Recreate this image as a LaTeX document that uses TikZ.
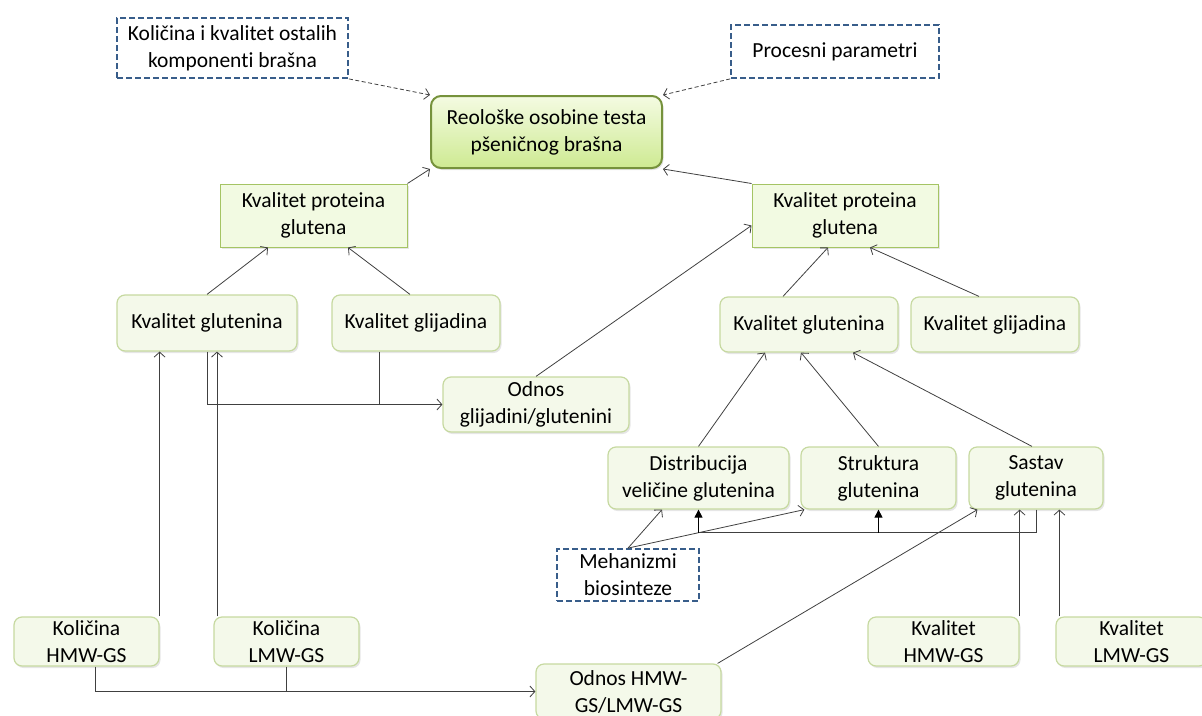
\documentclass[tikz,border=0pt]{standalone}
\usepackage{fontspec}
\setmainfont{Carlito}[Ligatures=NoCommon]
\usetikzlibrary{arrows.meta,shadows}
\definecolor{boxline}{RGB}{198,217,160}
\definecolor{boxfill}{RGB}{244,249,234}
\definecolor{kpgline}{RGB}{165,196,100}
\definecolor{kpgfill}{RGB}{242,250,226}
\definecolor{mainline}{RGB}{118,146,60}
\definecolor{maintop}{RGB}{244,251,226}
\definecolor{mainbot}{RGB}{206,234,146}
\definecolor{extline}{RGB}{56,93,138}
\definecolor{arrline}{RGB}{64,64,64}

\begin{document}
\begin{tikzpicture}[x=1pt,y=-1pt,
		font=\fontsize{21.5}{27}\selectfont,
		every node/.style={align=center,inner sep=0pt},
		shade/.style={drop shadow={shadow xshift=1.5pt,shadow yshift=-2pt,opacity=.2}},
		box/.style={draw=boxline,line width=1.2pt,fill=boxfill,rounded corners=8pt,shade},
		kpg/.style={draw=kpgline,line width=1pt,fill=kpgfill,shade},
		mainbox/.style={draw=mainline,line width=2pt,rounded corners=10pt,top color=maintop,bottom color=mainbot,shade},
		extbox/.style={draw=extline,line width=1.8pt,dash pattern=on 6pt off 3pt,fill=white},
		line/.style={draw=arrline,line width=.8pt},
		arr/.style={line,-{Straight Barb[length=5pt,width=11pt]}},
		dasharr/.style={arr,dash pattern=on 4pt off 2.5pt},
		fillarr/.style={draw=black,line width=.8pt,-{Triangle[length=8pt,width=8pt]}}]
	\useasboundingbox (0,0) rectangle (1202,715);
	% nodes
	\node [mainbox,minimum width=231pt,minimum height=72pt] (0) at (546.5,132) {Reološke osobine testa\\pšeničnog brašna};
	\node [kpg,minimum width=187pt,minimum height=63pt] (1) at (313.5,215.5) {Kvalitet proteina\\glutena};
	\node [kpg,minimum width=186pt,minimum height=63pt] (2) at (845,215.5) {Kvalitet proteina\\glutena};
	\node [box,minimum width=180pt,minimum height=56pt] (3) at (207,323) {Kvalitet glutenina};
	\node [box,minimum width=168pt,minimum height=56pt] (4) at (416,323) {Kvalitet glijadina};
	\node [box,minimum width=186pt,minimum height=55pt] (5) at (536,404.5) {Odnos\\glijadini/glutenini};
	\node [box,minimum width=178pt,minimum height=55pt] (6) at (809,324.5) {Kvalitet glutenina};
	\node [box,minimum width=168pt,minimum height=55pt] (7) at (995,324.5) {Kvalitet glijadina};
	\node [box,minimum width=181pt,minimum height=62pt] (8) at (698.5,478) {Distribucija\\veličine glutenina};
	\node [box,minimum width=155pt,minimum height=62pt] (9) at (878.5,478) {Struktura\\glutenina};
	\node [box,minimum width=134pt,minimum height=62pt] (10) at (1036,478) {Sastav\\glutenina};
	\node [extbox,minimum width=142pt,minimum height=52pt] (11) at (628,575) {Mehanizmi\\biosinteze};
	\node [box,minimum width=145pt,minimum height=49pt] (12) at (86.5,641.5) {Količina\\HMW-GS};
	\node [box,minimum width=145pt,minimum height=49pt] (13) at (286.5,641.5) {Količina\\LMW-GS};
	\node [box,minimum width=185pt,minimum height=55pt] (14) at (628.5,691.5) {Odnos HMW-\\GS/LMW-GS};
	\node [box,minimum width=151pt,minimum height=49pt] (15) at (943.5,641.5) {Kvalitet\\HMW-GS};
	\node [box,minimum width=151pt,minimum height=49pt] (16) at (1131.5,641.5) {Kvalitet\\LMW-GS};
	\node [extbox,minimum width=231pt,minimum height=60pt] (17) at (232.5,48) {Količina i kvalitet ostalih\\komponenti brašna};
	\node [extbox,minimum width=208pt,minimum height=53pt] (18) at (835,51.5) {Procesni parametri};
	% connectors
	\draw[dasharr] (17.south east) -- (0.north west);
	\draw[dasharr] (18.south west) -- (0.north east);
	\draw[arr] (1.north east) -- (0.south west);
	\draw[arr] (2.north west) -- (0.south east);
	\draw[arr] (3.north) -- ([xshift=-45.5pt]1.south);
	\draw[arr] ([xshift=-6pt]4.north) -- ([xshift=34.5pt]1.south);
	\draw[arr] (3.south) |- (5.west);
	\coordinate (g) at ([xshift=-37pt]4.south);
	\draw[line] (g) -- (g |- 5.west);
	\draw[arr] (5.north) -- ([yshift=-10pt]2.west);
	\draw[arr] (12.north east) -- (12.north east |- 3.south);
	\coordinate (l) at ([xshift=-69.5pt]13.north);
	\draw[arr] (l) -- (l |- 3.south);
	\draw[arr] ([xshift=8.5pt]12.south) |- (14.west);
	\draw[line] (13.south) -- (13.south |- 14.west);
	\draw[arr] ([xshift=-4pt]14.north east) -- ([xshift=9pt]10.south west);
	\draw[arr] ([xshift=-26pt]6.north) -- ([xshift=-17pt]2.south);
	\draw[arr] ([xshift=-16pt]7.north) -- ([xshift=25pt]2.south);
	\draw[arr] (8.north) -- ([xshift=-44pt]6.south);
	\draw[arr] (9.north) -- ([xshift=-8pt]6.south);
	\draw[arr] ([xshift=-4pt]10.north) -- ([xshift=44pt]6.south);
	\draw[arr] (11.north) -- ([xshift=-36.5pt]8.south);
	\draw[arr] (11.north) -- ([xshift=4pt]9.south west);
	\coordinate (bus) at ([yshift=-23pt]10.south);
	\draw[line] (10.south) -- (bus) -- (bus -| 8.south);
	\draw[fillarr] (bus -| 8.south) -- (8.south);
	\draw[fillarr] (bus -| 9.south) -- (9.south);
	\draw[arr] (15.north east) -- (15.north east |- 10.south);
	\coordinate (k) at ([xshift=4pt]16.north west);
	\draw[arr] (k) -- (k |- 10.south);
\end{tikzpicture}
\end{document}
